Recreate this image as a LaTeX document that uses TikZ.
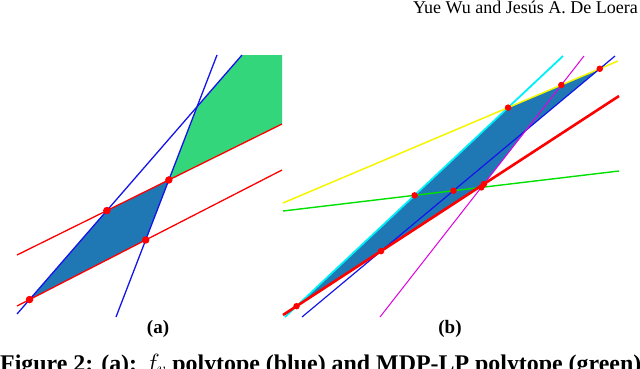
\documentclass[tikz,border=0pt]{standalone}
\usepackage{fontspec}
\setmainfont{Liberation Serif}
\definecolor{tabblue}{RGB}{31,119,180}
\definecolor{greenfill}{RGB}{51,214,122}
\definecolor{lnblue}{RGB}{20,20,235}
\definecolor{lnred}{RGB}{255,0,0}
\definecolor{lncyan}{RGB}{0,240,250}
\definecolor{lnmag}{RGB}{225,0,225}
\definecolor{lnyel}{RGB}{245,245,0}
\definecolor{lngreen}{RGB}{0,225,0}
\begin{document}
\begin{tikzpicture}[x=1pt,y=-1pt,
  ln/.style={line width=1.3pt},
  dotA/.style={circle,fill=lnred,inner sep=0pt,minimum size=7.5pt},
  dotB/.style={circle,fill=lnred,inner sep=0pt,minimum size=6.5pt},
  txt/.style={inner sep=0pt}]
\useasboundingbox (0,0) rectangle (640,368);
\clip (0,0) rectangle (640,368);

% ---------- panel (a) ----------
\coordinate (a1s) at (116,317); \coordinate (a1e) at (217,55);
\coordinate (a2s) at (17,314);  \coordinate (a2e) at (242,55);
\coordinate (r1s) at (17,255);  \coordinate (r1e) at (282,124);
\coordinate (r2s) at (17,306);  \coordinate (r2e) at (282,170);
\coordinate (gtr) at (282,55);

\coordinate (pA) at (intersection of a2s--a2e and r2s--r2e);
\coordinate (pB) at (intersection of a2s--a2e and r1s--r1e);
\coordinate (pC) at (intersection of a1s--a1e and r1s--r1e);
\coordinate (pD) at (intersection of a1s--a1e and r2s--r2e);
\coordinate (pE) at (intersection of a1s--a1e and a2s--a2e);

\fill[greenfill] (pC) -- (pE) -- (a2e) -- (gtr) -- (r1e) -- cycle;
\fill[tabblue] (pA) -- (pB) -- (pC) -- (pD) -- cycle;

\draw[ln,lnblue] (a1s) -- (a1e);
\draw[ln,lnblue] (a2s) -- (a2e);
\draw[ln,lnred] (r1s) -- (r1e);
\draw[ln,lnred] (r2s) -- (r2e);

\node[dotA] (dA) at (pA) {};
\node[dotA] (dB) at (pB) {};
\node[dotA] (dC) at (pC) {};
\node[dotA] (dD) at (pD) {};

% ---------- panel (b) ----------
\coordinate (cs) at (285,317); \coordinate (ce) at (563,56);
\coordinate (ms) at (380,317); \coordinate (me) at (584,56);
\coordinate (bs) at (302,317); \coordinate (be) at (615,56);
\coordinate (ys) at (283,203); \coordinate (ye) at (618,61);
\coordinate (rs) at (283,315); \coordinate (re) at (619,96);
\coordinate (gs) at (283,211); \coordinate (ge) at (619,171);

\coordinate (qCR) at (intersection of cs--ce and rs--re);
\coordinate (qCY) at (intersection of cs--ce and ys--ye);
\coordinate (qYB) at (intersection of ys--ye and bs--be);
\coordinate (qBM) at (intersection of bs--be and ms--me);
\coordinate (qMR) at (intersection of ms--me and rs--re);
\coordinate (qBR) at (intersection of bs--be and rs--re);
\coordinate (qGC) at (intersection of gs--ge and cs--ce);
\coordinate (qGB) at (intersection of gs--ge and bs--be);
\coordinate (qGM) at (intersection of gs--ge and ms--me);
\coordinate (qYM) at (intersection of ys--ye and ms--me);

\fill[tabblue] (qCR) -- (qCY) -- (qYB) -- (qBM) -- (qMR) -- cycle;

\draw[line width=1.8pt,lncyan] (cs) -- (ce);
\draw[line width=1.5pt,lnyel] (ys) -- (ye);
\draw[line width=1.4pt,lngreen] (gs) -- (ge);
\draw[line width=1.2pt,lnblue] (bs) -- (be);
\draw[line width=1.0pt,lnmag] (ms) -- (me);
\draw[line width=2.6pt,lnred] (rs) -- (re);

\node[dotB] (e1) at (qCR) {};
\node[dotB] (e2) at (qBR) {};
\node[dotB] (e3) at (qGC) {};
\node[dotB] (e4) at (qGB) {};
\node[dotB] (e5) at (qGM) {};
\node[dotB] (e6) at (qMR) {};
\node[dotB] (e7) at (qCY) {};
\node[dotB] (e8) at (qYM) {};
\node[dotB] (e9) at (qYB) {};

% ---------- texts ----------
\node[txt,anchor=base east,font=\fontsize{18}{20}\selectfont] (hdr) at (638,13.5) {Yue Wu and Jesús A. De Loera};
\node[txt,anchor=base,font=\bfseries\fontsize{19}{22}\selectfont] (la) at (158,333.5) {(a)};
\node[txt,anchor=base,font=\bfseries\fontsize{19}{22}\selectfont] (lb) at (450,333.5) {(b)};
\node[txt,anchor=base west,font=\bfseries\fontsize{23.9}{26}\selectfont] (cap) at (0,371) {Figure 2: (a): $f_v$ polytope (blue) and MDP-LP polytope (green)};
\end{tikzpicture}
\end{document}
